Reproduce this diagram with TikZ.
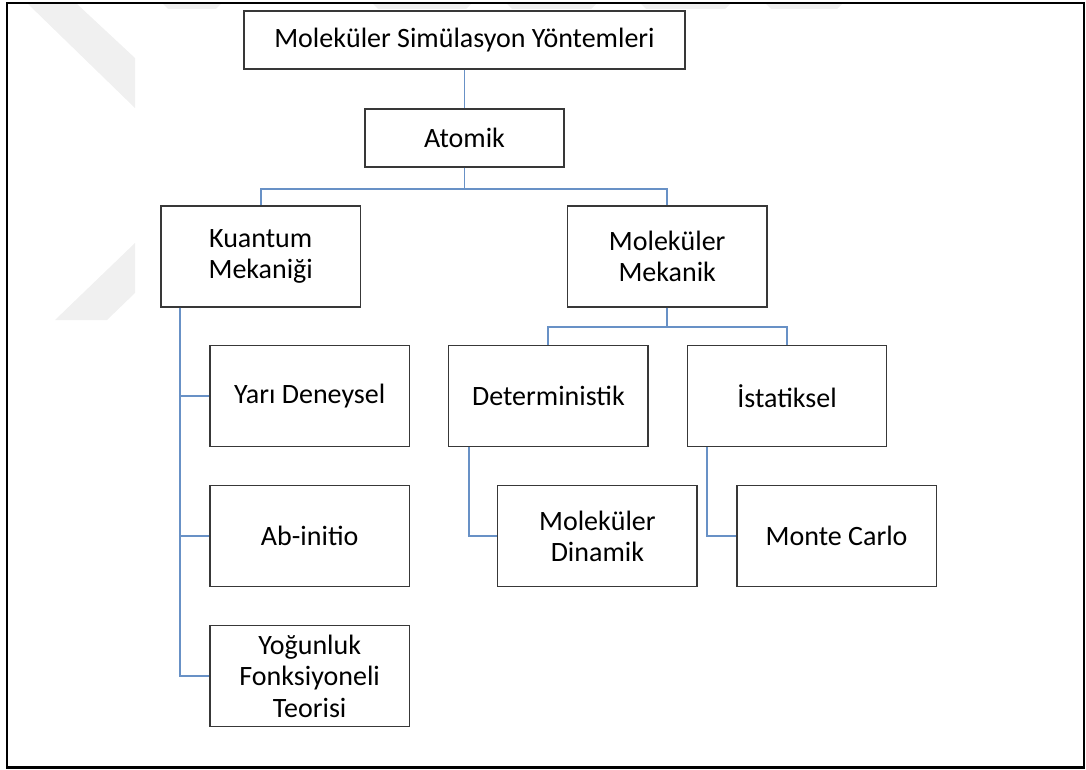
\documentclass[tikz,border=0pt]{standalone}
\usepackage{fontspec}
\setmainfont{Carlito}
\definecolor{linkblue}{RGB}{104,145,198}
\definecolor{wmgray}{RGB}{240,240,240}
\begin{document}
\begin{tikzpicture}[x=0.75pt,y=-0.75pt,
  box/.style={draw=black!78, line width=1pt, fill=white, rectangle, align=center,
    inner sep=0pt, font=\fontsize{21}{23.5}\selectfont, text=black},
  bigbox/.style={box, minimum width=149.6pt, minimum height=75.75pt},
  smallbox/.style={box, minimum height=43.5pt},
  link/.style={draw=linkblue, line width=1.4pt},
  wm/.style={fill=wmgray, draw=none}]
\useasboundingbox (0,0) rectangle (1086,770);
% faint watermark
\fill[wm] (28,4) -- (77,4) -- (135,58) -- (135,108) -- cycle;
\fill[wm] (135,243) -- (135,293) -- (107,320) -- (55,320) -- cycle;
\fill[wm] (163,4) -- (221,4) -- (216,9) -- (168,9) -- cycle;
\fill[wm] (373,4) -- (471,4) -- (466,9) -- (378,9) -- cycle;
\fill[wm] (507,4) -- (596,4) -- (591,9) -- (512,9) -- cycle;
\fill[wm] (641,4) -- (730,4) -- (725,9) -- (646,9) -- cycle;
\fill[wm] (766,4) -- (842,4) -- (837,9) -- (771,9) -- cycle;
% outer frame
\draw[line width=1.9pt] (6.8,2.8) rectangle (1084,767.3);
% nodes
\node[smallbox, minimum width=330.75pt] (root) at (464.5,40) {Moleküler Simülasyon Yöntemleri};
\node[smallbox, minimum width=149.25pt] (atom) at (464.5,138) {Atomik};
\node[bigbox] (K) at (260.7,256.5) {Kuantum\\Mekaniği};
\node[bigbox] (MM) at (667.2,256.5) {Moleküler\\Mekanik};
\node[bigbox] (Y) at (309.7,396.2) {Yarı Deneysel};
\node[bigbox] (A) at (309.7,536.2) {Ab-initio};
\node[bigbox] (F) at (309.7,676.2) {Yoğunluk\\Fonksiyoneli\\Teorisi};
\node[bigbox] (D) at (548.4,396.2) {Deterministik};
\node[bigbox] (I) at (787,396.2) {İstatiksel};
\node[bigbox] (MD) at (597.4,536.2) {Moleküler\\Dinamik};
\node[bigbox] (MC) at (836.6,536.2) {Monte Carlo};
% connectors
\draw[link] (root.south) -- (atom.north);
\draw[link] (atom.south) -- ++(0,21) -| (K.north);
\draw[link] (atom.south) -- ++(0,21) -| (MM.north);
\draw[link] ([xshift=15pt]K.south west) |- (Y.west);
\draw[link] ([xshift=15pt]K.south west) |- (A.west);
\draw[link] ([xshift=15pt]K.south west) |- (F.west);
\draw[link] (MM.south) -- ++(0,19.5) -| (D.north);
\draw[link] (MM.south) -- ++(0,19.5) -| (I.north);
\draw[link] ([xshift=15.5pt]D.south west) |- (MD.west);
\draw[link] ([xshift=15.3pt]I.south west) |- (MC.west);
\end{tikzpicture}
\end{document}
